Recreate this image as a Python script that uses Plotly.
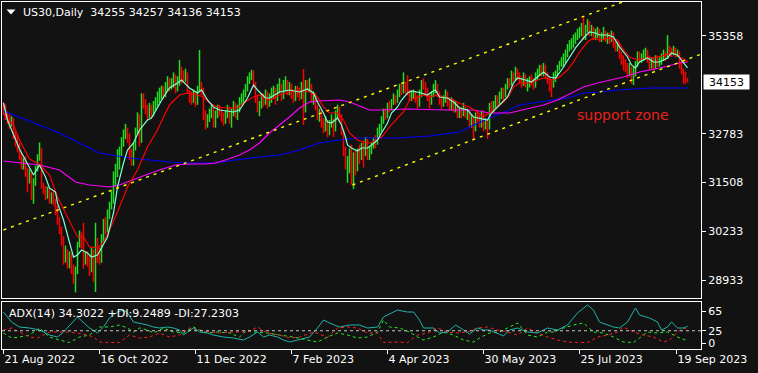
import plotly.graph_objects as go

# ---------------- data ----------------
first_open = 33500
close = [
    33450, 33250, 33180, 33050, 33120, 32700, 32650, 32450, 32200, 31950,
    32050, 31750, 31620, 31700, 31380, 31500, 31850, 32150, 32380, 31450,
    31300, 31150, 31250, 31050, 31150, 31000, 30750, 30500, 30250, 29950,
    29500, 29650, 29350, 29550, 29200, 29050, 29150, 29850, 30100, 29900,
    29450, 29550, 29400, 29300, 29650, 29150, 29950, 29550, 29500, 30050,
    30400, 30300, 30650, 30900, 31150, 31600, 31750, 32050, 32350, 32550,
    32750, 32900, 32650, 32200, 32050, 32450, 32850, 33200, 32600, 33750,
    33550, 33400, 33300, 33450, 33350, 33500, 33600, 33650, 33800, 33900,
    33850, 34000, 34150, 34050, 34100, 34250, 34000, 34150, 34450, 34300,
    34250, 34350, 33900, 33750, 33700, 33850, 33600, 33950, 34100, 33950,
    33250, 33000, 33200, 33350, 33400, 33050, 33300, 33450, 33350, 33200,
    33150, 33300, 33450, 33200, 33350, 33500, 33300, 33450, 33650, 33700,
    33850, 34000, 34200, 34300, 34400, 34100, 33700, 33400, 33550, 33750,
    33650, 33800, 33600, 33750, 33850, 33900, 33700, 33950, 34000, 33800,
    34050, 34100, 33900, 34000, 33850, 33750, 33950, 33900, 33800, 34000,
    33450, 34100, 34000, 34050, 33700, 33800, 33450, 33250, 33300, 33050,
    33000, 33100, 32850, 33050, 33150, 32900, 33300, 33400, 33250, 32850,
    32300, 31950, 32000, 32150, 31800, 32200, 32000, 32300, 32250, 32400,
    32300, 32500, 32200, 32300, 32450, 32600, 32550, 32850, 32950, 33150,
    33350, 33250, 33500, 33450, 33600, 33700, 33650, 33800, 34000, 33900,
    34000, 33950, 33850, 33750, 33800, 33850, 33700, 33600, 33850, 34100,
    34050, 33900, 33750, 33650, 33800, 33950, 34000, 33850, 33650, 33600,
    33700, 33850, 33600, 33500, 33650, 33450, 33550, 33300, 33400, 33350,
    33450, 33300, 33350, 33100, 33150, 32900, 33250, 33200, 33050, 33300,
    33000, 33100, 32950, 33500, 33450, 33550, 33700, 33600, 33800, 33900,
    33800, 34000, 34150, 34100, 34300, 34250, 34400, 34300, 34200, 34150,
    34250, 34050, 34100, 34200, 34150, 34050, 34300, 34350, 34450, 34400,
    34500, 34300, 34250, 34150, 34100, 34300, 34350, 34500, 34600, 34700,
    34750, 34850, 35000, 35100, 35150, 35250, 35300, 35400, 35450, 35500,
    35350, 35550, 35650, 35450, 35500, 35350, 35400, 35450, 35300, 35350,
    35450, 35300, 35350, 35250, 35400, 35150, 35050, 35100, 34850, 34750,
    34600, 34550, 34450, 34500, 34350, 34400, 34600, 34850, 34750, 34800,
    34850, 34900, 34750, 34600, 34700, 34600, 34750, 34650, 34700, 34750,
    34850, 34800, 35000, 34950, 34900, 35000, 34850, 34900, 34600, 34450,
    34350, 34255, 34153,
]
high = [
    33620, 33560, 33380, 33300, 33250, 33200, 32850, 32780, 32550, 32300,
    32150, 32200, 31900, 31850, 31760, 31620, 31950, 32250, 32560, 32420,
    31500, 31420, 31400, 31350, 31250, 31300, 31080, 30900, 30600, 30350,
    30100, 29850, 29750, 29700, 29650, 29350, 29300, 29950, 30250, 30200,
    30450, 29700, 29700, 29600, 29800, 29750, 30450, 30050, 29800, 30150,
    30550, 30600, 30800, 31000, 31300, 31800, 32000, 32380, 32450, 32700,
    32900, 33050, 32950, 32800, 32400, 32550, 32950, 33350, 33300, 33850,
    33850, 33700, 33550, 33600, 33550, 33650, 33750, 33900, 34000, 34050,
    34050, 34150, 34300, 34250, 34250, 34400, 34350, 34300, 34730, 34550,
    34450, 34500, 34400, 33950, 33900, 33950, 33900, 34050, 34990, 34150,
    34000, 33400, 33300, 33450, 33550, 33500, 33400, 33550, 33550, 33450,
    33350, 33400, 33550, 33500, 33450, 33650, 33600, 33550, 33750, 33850,
    33950, 34100, 34300, 34400, 34470, 34450, 34150, 33800, 33650, 33850,
    33850, 33950, 33900, 33850, 34000, 34050, 34000, 34100, 34250, 34100,
    34200, 34300, 34200, 34150, 34100, 33950, 34050, 34050, 34000, 34150,
    34490, 34200, 34200, 34250, 34100, 33900, 33850, 33550, 33450, 33400,
    33200, 33250, 33150, 33150, 33300, 33200, 33400, 33550, 33500, 33300,
    32900, 32450, 32200, 32400, 32500, 32300, 32350, 32400, 32500, 32550,
    32600, 32700, 32650, 32450, 32550, 32700, 32750, 32950, 33050, 33250,
    33450, 33450, 33600, 33650, 33700, 33850, 33800, 33950, 34100, 34100,
    34400, 34150, 34330, 33950, 33900, 33950, 33900, 33800, 33950, 34200,
    34250, 34150, 34000, 33850, 33900, 34100, 34200, 34100, 33900, 33750,
    33800, 33950, 33900, 33700, 33750, 33700, 33650, 33600, 33500, 33500,
    33600, 33500, 33450, 33400, 33300, 33250, 33350, 33400, 33300, 33400,
    33400, 33200, 33200, 33600, 33650, 33650, 33800, 33800, 33900, 34000,
    34000, 34100, 34250, 34250, 34450, 34400, 34550, 34500, 34400, 34300,
    34400, 34350, 34250, 34300, 34350, 34250, 34400, 34500, 34600, 34600,
    34650, 34600, 34400, 34300, 34200, 34400, 34450, 34600, 34700, 34800,
    34900, 35000, 35150, 35250, 35300, 35400, 35450, 35550, 35600, 35700,
    35860, 35650, 35800, 35750, 35650, 35600, 35550, 35600, 35550, 35450,
    35600, 35500, 35450, 35450, 35500, 35450, 35250, 35200, 35150, 34950,
    34850, 34750, 34650, 34650, 34550, 34550, 34700, 34950, 34950, 34900,
    35000, 35050, 35000, 34850, 34800, 34800, 34850, 34850, 34800, 34900,
    35000, 34950, 35380, 35100, 35050, 35100, 35050, 35000, 34950, 34700,
    34500, 34420, 34257,
]
low = [
    33280, 33150, 33050, 32920, 32980, 32650, 32450, 32300, 32100, 31850,
    31850, 31650, 31250, 31480, 31050, 30950, 31420, 31800, 32080, 31350,
    31200, 31050, 31080, 30950, 30950, 30900, 30650, 30400, 30150, 29850,
    29350, 29400, 29250, 29250, 29100, 28850, 28620, 29100, 29800, 29780,
    29250, 29350, 29300, 29050, 29150, 28900, 28630, 29400, 29350, 29400,
    29950, 30150, 30200, 30550, 30800, 30950, 31400, 31650, 31850, 32200,
    32450, 32650, 32550, 32100, 31950, 31950, 32350, 32750, 32450, 32550,
    33450, 33300, 33150, 33200, 33200, 33250, 33400, 33500, 33600, 33700,
    33700, 33750, 33900, 33900, 33950, 34000, 33850, 33900, 34050, 34100,
    34150, 34150, 33850, 33600, 33550, 33600, 33500, 33550, 33900, 33800,
    33150, 32900, 32950, 33100, 33200, 32950, 32950, 33200, 33250, 33100,
    33000, 33050, 33200, 33050, 32950, 33250, 33200, 33150, 33350, 33550,
    33600, 33750, 33900, 34100, 34200, 34000, 33600, 33350, 33250, 33450,
    33500, 33550, 33450, 33500, 33600, 33700, 33550, 33650, 33850, 33650,
    33700, 33900, 33800, 33800, 33700, 33600, 33650, 33750, 33650, 33700,
    33020, 33350, 33900, 33900, 33600, 33550, 33400, 33150, 33100, 32950,
    32800, 32850, 32700, 32750, 32950, 32700, 32850, 33200, 33100, 32750,
    32200, 31850, 31500, 31750, 31450, 31340, 31700, 31800, 32000, 32100,
    31900, 32200, 32100, 32100, 32250, 32400, 32400, 32500, 32750, 32850,
    33050, 33150, 33200, 33350, 33400, 33550, 33550, 33600, 33750, 33800,
    33850, 33850, 33800, 33650, 33650, 33700, 33600, 33450, 33500, 33750,
    33950, 33800, 33650, 33450, 33550, 33750, 33850, 33750, 33550, 33450,
    33500, 33600, 33500, 33400, 33400, 33350, 33350, 33200, 33200, 33200,
    33250, 33200, 33150, 32950, 32950, 32650, 32850, 33050, 32950, 32950,
    32850, 32900, 32650, 32900, 33350, 33350, 33450, 33500, 33550, 33700,
    33650, 33750, 33950, 34000, 34050, 34150, 34200, 34200, 34100, 34000,
    34050, 34000, 33900, 34000, 34050, 33950, 34000, 34200, 34300, 34300,
    34300, 34250, 34100, 33900, 33750, 34000, 34150, 34300, 34450, 34550,
    34550, 34650, 34800, 34950, 35000, 35050, 35150, 35250, 35300, 35350,
    35250, 35250, 35450, 35350, 35350, 35250, 35250, 35300, 35200, 35200,
    35250, 35200, 35150, 35150, 35200, 35050, 34950, 34950, 34750, 34600,
    34450, 34400, 34250, 34300, 34100, 34070, 34300, 34550, 34650, 34650,
    34700, 34750, 34650, 34450, 34500, 34450, 34500, 34550, 34550, 34600,
    34700, 34700, 34750, 34850, 34800, 34850, 34800, 34800, 34500, 34350,
    34100, 34100, 34136,
]

# moving averages (values read at sample bars)
aqua_idx = [0, 1, 2, 8, 12, 15, 18, 21, 23, 26, 27, 30, 32, 35, 37, 39, 42, 44, 47, 49,
            52, 55, 57, 60, 62, 65, 68, 72, 74, 80, 83, 87, 89, 93, 97, 99, 102, 105, 108, 115,
            118, 122, 125, 127, 131, 133, 138, 143, 148, 152, 155, 157, 160, 162, 164, 167, 169, 171, 172, 174,
            177, 179, 182, 184, 187, 189, 192, 194, 197, 199, 202, 204, 207, 209, 212, 214, 216, 218, 222, 225,
            228, 232, 235, 238, 242, 244, 247, 250, 252, 255, 257, 261, 264, 267, 270, 273, 276, 279, 282, 286,
            290, 293, 296, 298, 302, 305, 308, 312, 314, 316, 318, 322, 325, 328, 332, 334, 337, 339, 342]
aqua_val = [33597, 33334, 33150, 32390, 32020, 31705, 31968, 31653, 31363, 31258, 30970, 30522, 30128, 29550, 29603, 29734, 29655, 29550, 29603, 29787,
            30076, 30706, 31390, 32020, 32362, 32546, 32888, 33150, 33203, 33755, 33991, 34123, 34202, 33991, 33860, 33939, 33676, 33492, 33413, 33361,
            33413, 33728, 34070, 33939, 33728, 33728, 33886, 33939, 33886, 33965, 33860, 33623, 33334, 33098, 33071, 33203, 33019, 32703, 32494, 32415,
            32336, 32415, 32415, 32494, 32625, 32809, 33071, 33334, 33492, 33676, 33860, 33913, 33886, 33860, 33808, 33886, 33939, 33755, 33728, 33623,
            33466, 33413, 33229, 33203, 33150, 33334, 33492, 33676, 33755, 34123, 34254, 34202, 34150, 34280, 34412, 34280, 34254, 34464, 34727, 35043,
            35305, 35463, 35437, 35384, 35384, 35332, 35069, 34806, 34596, 34517, 34675, 34780, 34675, 34675, 34780, 34911, 34859, 34727, 34517]
red_idx = [0, 5, 8, 13, 18, 23, 27, 32, 37, 40, 43, 47, 50, 53, 57, 62, 67, 72, 77, 80,
           83, 88, 92, 97, 100, 103, 107, 112, 117, 120, 125, 128, 133, 138, 143, 148, 153, 157, 160, 163,
           167, 170, 173, 177, 180, 183, 187, 190, 193, 197, 200, 203, 207, 210, 213, 217, 220, 223, 227, 230,
           233, 237, 240, 243, 247, 250, 253, 255, 258, 263, 267, 270, 275, 278, 282, 285, 288, 292, 295, 298,
           303, 307, 310, 313, 317, 322, 327, 332, 335, 338, 341, 342]
red_val = [33308, 33019, 32625, 32125, 31990, 31705, 31127, 30600, 30076, 30076, 29814, 29787, 29945, 30260, 30733, 31390, 31836, 32441, 32888, 33230,
           33545, 33808, 33860, 33808, 33755, 33597, 33492, 33466, 33466, 33597, 33755, 33808, 33676, 33808, 33886, 33939, 33886, 33755, 33492, 33334,
           33334, 33150, 32809, 32625, 32572, 32546, 32625, 32756, 32966, 33203, 33361, 33676, 33755, 33808, 33755, 33808, 33755, 33728, 33623, 33545,
           33492, 33361, 33229, 33334, 33492, 33623, 33808, 34018, 34123, 34123, 34202, 34254, 34202, 34280, 34464, 34675, 34938, 35200, 35305, 35253,
           35305, 35253, 34990, 34806, 34727, 34780, 34806, 34859, 34911, 34806, 34727, 34675]
mag_idx = [0, 18, 28, 36, 43, 53, 58, 63, 71, 78, 86, 93, 101, 106, 111, 118, 123, 128, 133, 138,
           143, 148, 153, 158, 168, 173, 178, 183, 188, 202, 222, 235, 243, 253, 270, 277, 290, 297, 310, 318,
           328, 338, 342]
mag_val = [32073, 31968, 31836, 31521, 31442, 31390, 31442, 31548, 31705, 31836, 31968, 31994, 31994, 32020, 32099, 32231, 32362, 32546, 32809, 33019,
           33229, 33466, 33623, 33650, 33676, 33623, 33519, 33413, 33413, 33440, 33413, 33413, 33334, 33334, 33545, 33676, 34018, 34123, 34280, 34412,
           34517, 34648, 34675]
blue_idx = [0, 10, 18, 28, 38, 48, 63, 73, 83, 93, 106, 116, 123, 128, 138, 148, 158, 168, 178, 198,
            213, 228, 233, 243, 253, 258, 268, 282, 290, 298, 307, 315, 323, 332, 342]
blue_val = [33387, 33177, 33019, 32809, 32546, 32283, 32152, 32099, 32047, 32020, 32020, 32099, 32152, 32178, 32231, 32362, 32546, 32625, 32677, 32677,
            32730, 32835, 32966, 33203, 33413, 33545, 33623, 33728, 33860, 33886, 33939, 33965, 33991, 33991, 33991]

# channel (trend lines)
chan_up_idx = [0, 349]
chan_up_val = [30260, 37014]
chan_lo_idx = [174.5, 349]
chan_lo_val = [31442, 34885]

# ADX(14) pane
adx_idx = [0, 4, 8, 13, 18, 23, 27, 30, 37, 40, 43, 47, 50, 53, 57, 60, 62, 65, 68, 72,
           75, 78, 82, 85, 88, 90, 92, 95, 98, 102, 105, 110, 115, 120, 123, 127, 130, 133, 137, 140,
           143, 147, 150, 153, 157, 160, 163, 168, 173, 178, 182, 187, 190, 197, 202, 205, 208, 210, 215, 218,
           222, 226, 230, 233, 237, 240, 243, 247, 250, 253, 257, 262, 267, 272, 277, 282, 287, 292, 295, 298,
           302, 305, 308, 312, 316, 318, 323, 327, 329, 332, 334, 337, 340, 342]
adx_val = [63.2, 42.8, 32.6, 30.6, 26.5, 16.3, 12.2, 22.4, 53.0, 42.8, 30.6, 20.4, 32.6, 51.0, 63.2, 67.3, 61.2, 42.8, 40.8, 36.7,
           32.6, 30.6, 32.6, 30.6, 26.5, 16.3, 22.4, 30.6, 22.4, 20.4, 16.3, 12.2, 10.2, 6.1, 12.2, 22.4, 12.2, 16.3, 12.2, 6.1,
           2.0, 6.1, 10.2, 12.2, 30.6, 46.9, 40.8, 32.6, 36.7, 36.7, 30.6, 32.6, 53.0, 67.3, 63.2, 63.2, 46.9, 30.6, 30.6, 20.4,
           22.4, 36.7, 26.5, 18.4, 30.6, 26.5, 26.5, 20.4, 14.3, 26.5, 30.6, 22.4, 20.4, 30.6, 26.5, 36.7, 61.2, 77.5, 67.3, 42.8,
           36.7, 32.6, 30.6, 42.8, 71.4, 57.1, 51.0, 42.8, 26.5, 32.6, 42.8, 30.6, 30.6, 34.3022]
pdi_idx = [0, 4, 8, 13, 18, 23, 28, 33, 38, 43, 48, 53, 58, 62, 65, 68, 72, 75, 80, 85,
           90, 95, 98, 102, 107, 113, 118, 122, 125, 132, 138, 145, 152, 157, 162, 167, 172, 177, 182, 187,
           190, 193, 198, 203, 207, 210, 215, 220, 225, 230, 235, 238, 243, 248, 253, 257, 262, 267, 272, 275,
           280, 285, 290, 295, 300, 305, 310, 315, 318, 322, 327, 332, 337, 341, 342]
pdi_val = [20.4, 10.2, 12.2, 16.3, 30.6, 12.2, 6.1, 1.0, 12.2, 16.3, 32.6, 32.6, 36.7, 30.6, 22.4, 30.6, 26.5, 20.4, 30.6, 22.4,
           20.4, 32.6, 26.5, 20.4, 22.4, 20.4, 12.2, 26.5, 22.4, 20.4, 16.3, 12.2, 6.1, 2.0, 12.2, 20.4, 16.3, 10.2, 12.2, 22.4,
           46.9, 32.6, 30.6, 22.4, 12.2, 6.1, 12.2, 22.4, 16.3, 6.1, 2.0, 10.2, 20.4, 22.4, 32.6, 40.8, 16.3, 12.2, 22.4, 22.4,
           30.6, 36.7, 40.8, 22.4, 20.4, 12.2, 2.0, 1.0, 10.2, 22.4, 20.4, 22.4, 12.2, 6.1, 9.2489]
mdi_idx = [0, 4, 8, 13, 17, 23, 27, 32, 37, 42, 45, 48, 53, 58, 63, 68, 73, 78, 83, 88,
           93, 98, 103, 108, 115, 122, 127, 132, 138, 143, 148, 155, 162, 167, 172, 177, 182, 187, 190, 195,
           202, 207, 212, 217, 222, 227, 232, 237, 242, 247, 252, 257, 262, 267, 272, 277, 282, 287, 292, 297,
           302, 307, 310, 315, 320, 325, 330, 333, 337, 340, 342]
mdi_val = [26.5, 30.6, 22.4, 12.2, 10.2, 22.4, 22.4, 22.4, 20.4, 16.3, 12.2, 2.0, 1.0, 1.0, 16.3, 10.2, 12.2, 20.4, 12.2, 16.3,
           30.6, 26.5, 22.4, 20.4, 22.4, 22.4, 32.6, 20.4, 16.3, 10.2, 12.2, 22.4, 12.2, 30.6, 32.6, 30.6, 20.4, 20.4, 1.0, 2.0,
           1.0, 16.3, 20.4, 30.6, 22.4, 20.4, 22.4, 30.6, 32.6, 26.5, 22.4, 16.3, 30.6, 20.4, 12.2, 6.1, 2.0, 1.0, 1.0, 12.2,
           16.3, 22.4, 32.6, 22.4, 16.3, 12.2, 2.0, 6.1, 22.4, 30.6, 27.2303]
adx_level = 25

# tick labels
price_ticks = [28933, 30233, 31508, 32783, 35358]
adx_ticks = [0, 25, 65]
date_idx = [0, 48, 96, 144, 192, 240, 288, 336.5]
date_lbl = ["21 Aug 2022", "16 Oct 2022", "11 Dec 2022", "7 Feb 2023",
            "4 Apr 2023", "30 May 2023", "25 Jul 2023", "19 Sep 2023"]
symbol = "US30,Daily"

# ---------------- figure ----------------
W, H = 758, 373
BG = "#121212"
FG = "#ffffff"
FONT = "DejaVu Sans"
UP = "#22dd22"
DN = "#ff0000"


def px(xp):
    return xp / W


def py(yp):
    return 1 - yp / H


opens = [first_open] + close[:-1]
bars = list(range(len(close)))
xr = [-0.75, 348.75]
xdom = [px(2), px(701)]

# bar chart (high-low lines coloured by direction) built from the data
up_x, up_y, dn_x, dn_y = [], [], [], []
for i, o, h, l, c in zip(bars, opens, high, low, close):
    if c >= o:
        up_x += [i, i, None]
        up_y += [l, h, None]
    else:
        dn_x += [i, i, None]
        dn_y += [l, h, None]

fig = go.Figure()
fig.add_trace(go.Scatter(x=up_x, y=up_y, mode="lines", line=dict(color=UP, width=1.5),
                         hoverinfo="skip", showlegend=False, xaxis="x", yaxis="y"))
fig.add_trace(go.Scatter(x=dn_x, y=dn_y, mode="lines", line=dict(color=DN, width=1.5),
                         hoverinfo="skip", showlegend=False, xaxis="x", yaxis="y"))

for ix, vals, col in [(blue_idx, blue_val, "#0000ff"), (mag_idx, mag_val, "#ff00ff"),
                      (red_idx, red_val, "#ff0000"), (aqua_idx, aqua_val, "#7fffd4")]:
    fig.add_trace(go.Scatter(x=ix, y=vals, mode="lines", line=dict(color=col, width=1.2),
                             hoverinfo="skip", showlegend=False, xaxis="x", yaxis="y"))

for ix, vals in [(chan_up_idx, chan_up_val), (chan_lo_idx, chan_lo_val)]:
    fig.add_trace(go.Scatter(x=ix, y=vals, mode="lines",
                             line=dict(color="#ffff00", width=1.4, dash="3px,5px"),
                             hoverinfo="skip", showlegend=False, xaxis="x", yaxis="y"))

fig.add_trace(go.Scatter(x=pdi_idx, y=pdi_val, mode="lines",
                         line=dict(color="#22ee22", width=1, dash="3px,3px"),
                         hoverinfo="skip", showlegend=False, xaxis="x2", yaxis="y2"))
fig.add_trace(go.Scatter(x=mdi_idx, y=mdi_val, mode="lines",
                         line=dict(color="#ff2020", width=1, dash="3px,3px"),
                         hoverinfo="skip", showlegend=False, xaxis="x2", yaxis="y2"))
fig.add_trace(go.Scatter(x=adx_idx, y=adx_val, mode="lines",
                         line=dict(color="#20b2aa", width=1),
                         hoverinfo="skip", showlegend=False, xaxis="x2", yaxis="y2"))

tickfont = dict(family=FONT, size=11, color=FG)
axis_common = dict(showgrid=False, zeroline=False, showline=True, mirror=True,
                   linecolor=FG, linewidth=1, fixedrange=True, automargin=False)

fig.update_layout(
    width=W, height=H, margin=dict(l=0, r=0, t=0, b=0, autoexpand=False),
    paper_bgcolor=BG, plot_bgcolor=BG, showlegend=False,
    xaxis=dict(domain=xdom, range=xr, anchor="y", showticklabels=False, ticks="", **axis_common),
    yaxis=dict(domain=[py(298), py(2)], range=[28473, 36251], anchor="x", side="right",
               tickvals=price_ticks, ticktext=[str(v) for v in price_ticks],
               ticks="outside", ticklen=4, tickcolor=FG, tickfont=tickfont, **axis_common),
    xaxis2=dict(domain=xdom, range=xr, anchor="y2", tickvals=date_idx, ticktext=date_lbl,
                ticks="outside", ticklen=4, tickcolor=FG, ticklabelposition="outside right",
                tickfont=tickfont, **axis_common),
    yaxis2=dict(domain=[py(349), py(302)], range=[-12.2, 83.6], anchor="x2", side="right",
                tickvals=adx_ticks, ticktext=[str(v) for v in adx_ticks],
                ticks="outside", ticklen=4, tickcolor=FG, tickfont=tickfont, **axis_common),
)

# level line in ADX pane
fig.add_shape(type="line", xref="x2 domain", yref="y2", x0=0, x1=1, y0=adx_level, y1=adx_level,
              line=dict(color="#c8c8c8", width=1, dash="3px,3px"))

# title triangle + text
fig.add_shape(type="path", xref="paper", yref="paper",
              path=f"M {px(6.5)},{py(9.5)} L {px(15.5)},{py(9.5)} L {px(11)},{py(14.5)} Z",
              fillcolor=FG, line=dict(width=0))
fig.add_annotation(xref="paper", yref="paper", x=px(21), y=py(12), xanchor="left", yanchor="middle",
                   text=f"{symbol}\u00a0 {opens[-1]} {high[-1]} {low[-1]} {close[-1]}",
                   showarrow=False, font=dict(family=FONT, size=11, color=FG))

# ADX caption
fig.add_annotation(xref="paper", yref="paper", x=px(7), y=py(313), xanchor="left", yanchor="middle",
                   text=f"ADX(14) {adx_val[-1]:.4f} +DI:{pdi_val[-1]:.4f} -DI:{mdi_val[-1]:.4f}",
                   showarrow=False, font=dict(family=FONT, size=11, color=FG))

# support zone label
fig.add_annotation(xref="paper", yref="paper", x=px(575), y=py(115), xanchor="left", yanchor="middle",
                   text="support zone", showarrow=False,
                   font=dict(family=FONT, size=14, color="#e8201c"))

# current price box
fig.add_annotation(xref="paper", yref="y", x=px(703), y=close[-1], xanchor="left", yanchor="middle",
                   text=str(close[-1]), showarrow=False, bgcolor="#ffffff", borderpad=0,
                   width=45, height=14, font=dict(family=FONT, size=11, color="#000000"))

fig.write_html("out.html", config={"displayModeBar": False})
